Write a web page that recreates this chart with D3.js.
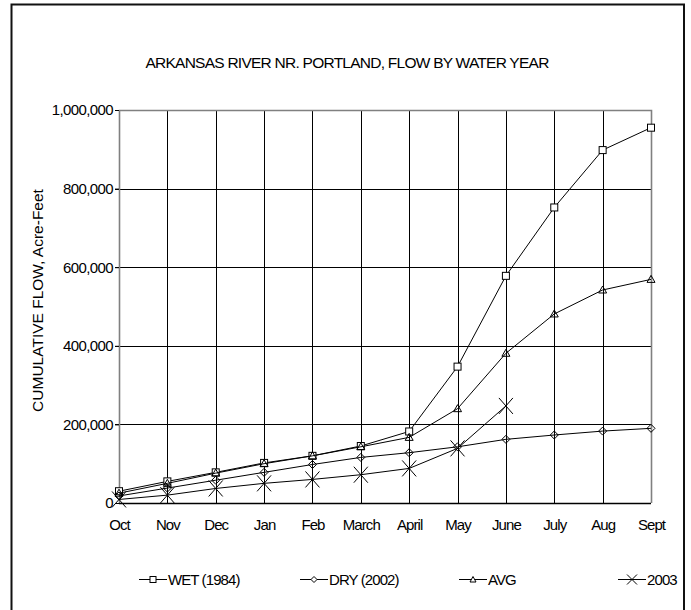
<!DOCTYPE html>
<html>
<head>
<meta charset="utf-8">
<script src="https://cdn.jsdelivr.net/npm/d3@7"></script>
<style>
  body { margin: 0; background: #fff; }
  svg { display: block; font-family: "Liberation Sans", Arial, sans-serif; }
  .grid line { stroke: #000; stroke-width: 1; shape-rendering: crispEdges; }
  .series path { fill: none; stroke: #000; stroke-width: 1; }
  text { fill: #000; }
</style>
</head>
<body>
<svg width="691" height="610"></svg>
<script>
(function (d3) {
  'use strict';

  const months = ['Oct', 'Nov', 'Dec', 'Jan', 'Feb', 'March', 'April', 'May', 'June', 'July', 'Aug', 'Sept'];
  const wet1984 = [30000, 55000, 78000, 102000, 120000, 145000, 182000, 347000, 578000, 752000, 898000, 955000];
  const dry2002 = [18000, 38000, 58000, 78000, 98000, 116000, 128000, 143000, 162000, 173000, 183000, 190000];
  const avg = [25000, 50000, 76000, 100000, 120000, 143000, 167000, 240000, 381000, 481000, 542000, 569000];
  const wy2003 = [9000, 20000, 37000, 50000, 60000, 72000, 88000, 139000, 247000];
  const yTicks = [0, 200000, 400000, 600000, 800000, 1000000];

  const seriesNames = ['WET (1984)', 'DRY (2002)', 'AVG', '2003'];
  const seriesValues = [wet1984, dry2002, avg, wy2003];
  const seriesMarkers = ['square', 'diamond', 'triangle', 'cross'];

  const svg = d3.select('svg');
  const margin = { top: 110, left: 119, right: 40, bottom: 107 };
  const width = +svg.attr('width');
  const height = +svg.attr('height');
  const innerWidth = width - margin.left - margin.right;
  const innerHeight = height - margin.top - margin.bottom;

  // outer frame, runs off the bottom of the picture
  svg.append('rect')
    .attr('x', 11.5).attr('y', 4.5)
    .attr('width', 672.5).attr('height', 640)
    .attr('fill', 'none')
    .attr('stroke', '#111')
    .attr('stroke-width', 2);

  svg.append('text')
    .attr('x', 347).attr('y', 68)
    .attr('text-anchor', 'middle')
    .attr('font-size', 15.5)
    .attr('letter-spacing', -0.75)
    .text('ARKANSAS RIVER NR. PORTLAND, FLOW BY WATER YEAR');

  const x = d3.scalePoint().domain(months).range([0, innerWidth]);
  const y = d3.scaleLinear().domain([0, 1000000]).range([innerHeight, 0]);

  const g = svg.append('g')
    .attr('transform', `translate(${margin.left},${margin.top})`);

  // gridlines
  const grid = g.append('g').attr('class', 'grid');
  grid.selectAll('.h').data(yTicks.slice(1)).enter().append('line')
    .attr('x1', -4).attr('x2', innerWidth)
    .attr('y1', d => Math.round(y(d)) + 0.5).attr('y2', d => Math.round(y(d)) + 0.5);
  grid.selectAll('.v').data(months.slice(1)).enter().append('line')
    .attr('x1', d => Math.round(x(d)) + 0.5).attr('x2', d => Math.round(x(d)) + 0.5)
    .attr('y1', 0).attr('y2', innerHeight);

  // plot frame top/right/left in gray
  g.append('path')
    .attr('d', `M0.5,${innerHeight}V0.5H${Math.round(innerWidth) + 0.5}V${innerHeight}`)
    .attr('fill', 'none')
    .attr('stroke', '#808080')
    .attr('stroke-width', 1.6);

  // y axis
  const yAxis = d3.axisLeft(y)
    .tickValues(yTicks)
    .tickSize(4)
    .tickFormat(d3.format(','));
  const yAxisG = g.append('g').call(yAxis);
  yAxisG.select('.domain').remove();
  yAxisG.selectAll('line').attr('stroke', '#000');
  yAxisG.selectAll('text')
    .attr('font-size', 15)
    .attr('letter-spacing', -0.6)
    .attr('x', -6)
    .attr('fill', '#000')
    .attr('font-family', '"Liberation Sans", Arial, sans-serif');

  // x axis
  const xAxis = d3.axisBottom(x).tickSize(0).tickPadding(16);
  const xAxisG = g.append('g')
    .attr('transform', `translate(0,${innerHeight})`)
    .call(xAxis);
  xAxisG.select('.domain').remove();
  xAxisG.selectAll('text')
    .attr('font-size', 15)
    .attr('letter-spacing', -0.9)
    .attr('fill', '#000')
    .attr('font-family', '"Liberation Sans", Arial, sans-serif');
  g.append('line')
    .attr('x1', 0).attr('x2', innerWidth)
    .attr('y1', innerHeight + 0.5).attr('y2', innerHeight + 0.5)
    .attr('stroke', '#000').attr('stroke-width', 1.5);

  // y axis title
  svg.append('text')
    .attr('transform', `translate(43,${margin.top + innerHeight / 2 - 6}) rotate(-90)`)
    .attr('text-anchor', 'middle')
    .attr('font-size', 15.5)
    .text('CUMULATIVE FLOW, Acre-Feet');

  const drawMarker = (sel, type) => {
    if (type === 'square') {
      sel.append('rect').attr('x', -3.5).attr('y', -3.5).attr('width', 7).attr('height', 7)
        .attr('fill', '#fff').attr('stroke', '#000');
    } else if (type === 'diamond') {
      sel.append('path').attr('d', 'M0,-4L4,0L0,4L-4,0Z')
        .attr('fill', '#fff').attr('stroke', '#000');
    } else if (type === 'triangle') {
      sel.append('path').attr('d', 'M0,-4L4,3L-4,3Z')
        .attr('fill', '#fff').attr('stroke', '#000');
    } else {
      sel.append('path').attr('d', 'M-7,-8L7,8M-7,8L7,-8')
        .attr('fill', 'none').attr('stroke', '#000').attr('stroke-width', 1.2);
    }
  };

  const line = d3.line()
    .x((d, i) => x(months[i]))
    .y(d => y(d));

  seriesValues.forEach((vals, k) => {
    const sg = g.append('g').attr('class', 'series');
    sg.append('path').attr('d', line(vals));
    sg.selectAll('.m').data(vals).enter().append('g')
      .attr('transform', (d, i) => `translate(${x(months[i])},${y(d)})`)
      .each(function () { drawMarker(d3.select(this), seriesMarkers[k]); });
  });

  // legend
  const legendX = [139, 300, 459, 618];
  const legendY = 579;
  seriesNames.forEach((name, k) => {
    const lg = svg.append('g').attr('transform', `translate(${legendX[k]},${legendY})`);
    lg.append('line').attr('x1', 0).attr('x2', 28).attr('y1', 0.5).attr('y2', 0.5)
      .attr('stroke', '#000');
    const mg = lg.append('g').attr('transform', 'translate(14,0.5)');
    if (seriesMarkers[k] === 'cross') {
      mg.append('path').attr('d', 'M-5,-5L5,5M-5,5L5,-5').attr('stroke', '#000').attr('fill', 'none');
    } else if (seriesMarkers[k] === 'square') {
      mg.append('rect').attr('x', -3).attr('y', -3).attr('width', 6).attr('height', 6)
        .attr('fill', '#fff').attr('stroke', '#000');
    } else if (seriesMarkers[k] === 'diamond') {
      mg.append('path').attr('d', 'M0,-3L3,0L0,3L-3,0Z').attr('fill', '#fff').attr('stroke', '#000');
    } else {
      mg.append('path').attr('d', 'M0,-3L3,2.5L-3,2.5Z').attr('fill', '#fff').attr('stroke', '#000');
    }
    lg.append('text')
      .attr('x', 29).attr('y', 5.5)
      .attr('font-size', 15)
      .attr('letter-spacing', -0.9)
      .text(name);
  });

}(d3));
</script>
</body>
</html>
